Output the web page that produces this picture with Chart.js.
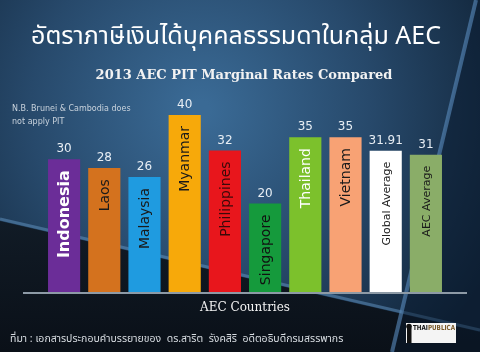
<!DOCTYPE html>
<html><head><meta charset="utf-8">
<script src="https://cdn.jsdelivr.net/npm/chart.js@4"></script>
<style>html,body{margin:0;padding:0;background:#0d1b2a;}canvas{display:block;}</style>
</head><body>
<canvas id="c" width="480" height="352"></canvas>
<script>
const categories = ["Indonesia","Laos","Malaysia","Myanmar","Philippines","Singapore","Thailand","Vietnam","Global Average","AEC Average"];
const rates = [30,28,26,40,32,20,35,35,31.91,31];
const valueLabels = ["30","28","26","40","32","20","35","35","31.91","31"];
const barColors = ["#6b2d98","#d4721e","#1f9be0","#f7a90a","#e8161c","#159a3c","#7cc12c","#f8a274","#ffffff","#8aad68"];
const nameColors = ["#ffffff","#1a1a1a","#1a1a1a","#1a1a1a","#3a0a0a","#111111","#ffffff","#1a1a1a","#1a1a1a","#1a1a1a"];
const titleText = "อัตราภาษีเงินได้บุคคลธรรมดาในกลุ่ม AEC";
const subtitleText = "2013 AEC PIT Marginal Rates Compared";
const noteLines = ["N.B. Brunei & Cambodia does","not apply PIT"];
const axisTitle = "AEC Countries";
const sourceText = "ที่มา : เอกสารประกอบคำบรรยายของ  ดร.สาริต  รังคสิริ  อดีตอธิบดีกรมสรรพากร";
const logoParts = ["THAI","PUBLICA"];

const bgPlugin = {
  id:'bg',
  beforeDraw(chart){
    const ctx = chart.ctx, W = chart.width, H = chart.height;
    ctx.save();
    const g = ctx.createRadialGradient(200,110,10,200,110,330);
    g.addColorStop(0,'#3a6a95');
    g.addColorStop(0.5,'#27496b');
    g.addColorStop(1,'#102337');
    ctx.fillStyle = g; ctx.fillRect(0,0,W,H);
    ctx.beginPath();
    ctx.moveTo(0,221); ctx.lineTo(480,332); ctx.lineTo(480,352); ctx.lineTo(0,352); ctx.closePath();
    const g2 = ctx.createLinearGradient(0,221,0,352);
    g2.addColorStop(0,'#111b26'); g2.addColorStop(1,'#0a1018');
    ctx.fillStyle = g2; ctx.fill();
    ctx.strokeStyle='rgba(100,150,195,0.5)'; ctx.lineWidth=3;
    ctx.beginPath(); ctx.moveTo(0,219); ctx.lineTo(480,330); ctx.stroke();
    ctx.beginPath();
    ctx.moveTo(476,0); ctx.lineTo(W,0); ctx.lineTo(W,H); ctx.lineTo(392,H); ctx.closePath();
    ctx.fillStyle='rgba(10,25,45,0.5)'; ctx.fill();
    ctx.strokeStyle='rgba(90,140,190,0.6)'; ctx.lineWidth=4;
    ctx.beginPath(); ctx.moveTo(476,0); ctx.lineTo(392,H); ctx.stroke();
    ctx.restore();
  }
};

const textPlugin = {
  id:'texts',
  afterDatasetsDraw(chart){
    const ctx = chart.ctx;
    const meta = chart.getDatasetMeta(0);
    ctx.save();
    const yb = chart.scales.y.getPixelForValue(0);
    ctx.strokeStyle='#8d9aa6'; ctx.lineWidth=2;
    ctx.beginPath(); ctx.moveTo(23,yb+1); ctx.lineTo(467,yb+1); ctx.stroke();
    meta.data.forEach((bar,i)=>{
      ctx.fillStyle='#e8eef4';
      ctx.font='12px "DejaVu Sans", sans-serif';
      ctx.textAlign='center'; ctx.textBaseline='bottom';
      ctx.fillText(valueLabels[i], bar.x, bar.y-4);
      ctx.save();
      ctx.translate(bar.x, bar.y+11);
      ctx.rotate(-Math.PI/2);
      ctx.textAlign='right'; ctx.textBaseline='middle';
      ctx.fillStyle=nameColors[i];
      if(i===0){ ctx.font='bold 16px "DejaVu Sans", sans-serif'; }
      else if(i>=8){ ctx.font='11px "DejaVu Sans", sans-serif'; }
      else { ctx.font='14px "DejaVu Sans", sans-serif'; }
      ctx.fillText(categories[i],0,1);
      ctx.restore();
    });
    ctx.textAlign='center'; ctx.textBaseline='middle';
    ctx.fillStyle='#ffffff';
    ctx.font='25px "Noto Sans Thai","Noto Sans","DejaVu Sans", sans-serif';
    ctx.fillText(titleText, 236, 39);
    ctx.fillStyle='#f2f2f2';
    ctx.font='bold 13px "DejaVu Serif", serif';
    ctx.fillText(subtitleText, 244, 76);
    ctx.font='12px "DejaVu Serif", serif';
    ctx.fillText(axisTitle, 245, 308);
    ctx.textAlign='left';
    ctx.fillStyle='#c8d2dc';
    ctx.font='8px "DejaVu Sans", sans-serif';
    ctx.fillText(noteLines[0], 12, 109);
    ctx.fillText(noteLines[1], 12, 122);
    ctx.fillStyle='#d8dde2';
    ctx.font='10.5px "Noto Sans Thai","Noto Sans","DejaVu Sans", sans-serif';
    ctx.fillText(sourceText, 10, 340);
    // logo
    ctx.fillStyle='#f4f4f4'; ctx.fillRect(406,323,50,20);
    ctx.fillStyle='#111';
    ctx.beginPath(); ctx.arc(409,326.5,2.8,0,Math.PI*2); ctx.fill();
    ctx.fillRect(407,328,4.5,15);
    ctx.font='bold 7px "DejaVu Sans Condensed","DejaVu Sans", sans-serif';
    const w1 = ctx.measureText(logoParts[0]).width;
    const w2 = ctx.measureText(logoParts[1]).width;
    const s = Math.min(1, 42/(w1+w2));
    ctx.save();
    ctx.translate(413,328); ctx.scale(s,1);
    ctx.fillText(logoParts[0], 0, 0);
    ctx.fillStyle='#7a5a2a';
    ctx.fillText(logoParts[1], w1, 0);
    ctx.restore();
    ctx.restore();
  }
};

new Chart(document.getElementById('c'), {
  type:'bar',
  data:{ labels:categories, datasets:[{ data:rates, backgroundColor:barColors, borderWidth:0 }] },
  options:{
    responsive:false, animation:false,
    layout:{ padding:{ left:44, right:34, top:115, bottom:60 } },
    plugins:{ legend:{display:false}, tooltip:{enabled:false}, title:{display:false} },
    scales:{
      x:{ display:false, offset:true },
      y:{ display:false, min:0, max:40 }
    },
    datasets:{ bar:{ categoryPercentage:1, barPercentage:0.8 } }
  },
  plugins:[bgPlugin,textPlugin]
});
</script>
</body></html>
